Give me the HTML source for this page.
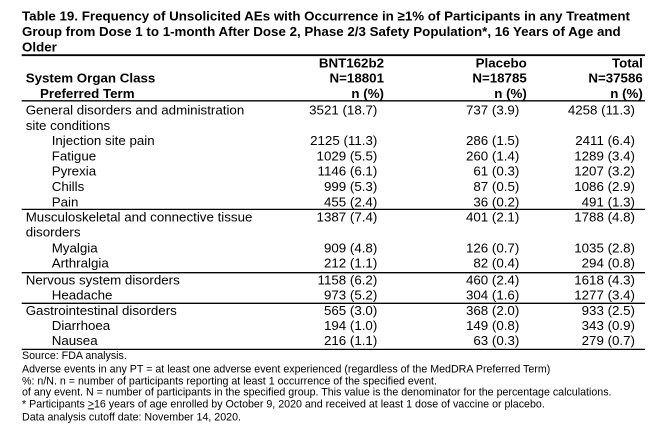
<!DOCTYPE html>
<html>
<head>
<meta charset="utf-8">
<style>
html,body{margin:0;padding:0;background:#fff;}
svg{display:block;}
text{font-family:"Liberation Sans",Arial,sans-serif;fill:#000;}
.t{font-weight:bold;font-size:13.33px;}
.h{font-weight:bold;font-size:13.33px;}
.d{font-size:13.33px;}
.f{font-size:10.67px;}
</style>
</head>
<body>
<svg width="655" height="426" viewBox="0 0 655 426" xmlns="http://www.w3.org/2000/svg">
<rect width="655" height="426" fill="#fff"/>
<!-- Title -->
<text class="t" x="22" y="20.3">Table 19. Frequency of Unsolicited AEs with Occurrence in ≥1% of Participants in any Treatment</text>
<text class="t" x="22" y="36">Group from Dose 1 to 1-month After Dose 2, Phase 2/3 Safety Population*, 16 Years of Age and</text>
<text class="t" x="22" y="51.7">Older</text>
<line x1="21.7" y1="55.2" x2="645" y2="55.2" stroke="#000" stroke-width="1.8"/>
<!-- Header -->
<text class="h" x="384" y="67.7" text-anchor="end">BNT162b2</text>
<text class="h" x="526.8" y="67.7" text-anchor="end">Placebo</text>
<text class="h" x="642.8" y="67.7" text-anchor="end">Total</text>
<text class="h" x="25.7" y="82.7">System Organ Class</text>
<text class="h" x="384" y="82.7" text-anchor="end">N=18801</text>
<text class="h" x="526.8" y="82.7" text-anchor="end">N=18785</text>
<text class="h" x="642.8" y="82.7" text-anchor="end">N=37586</text>
<text class="h" x="40" y="97.8">Preferred Term</text>
<text class="h" x="384" y="97.8" text-anchor="end">n (%)</text>
<text class="h" x="526.8" y="97.8" text-anchor="end">n (%)</text>
<text class="h" x="642.8" y="97.8" text-anchor="end">n (%)</text>
<line x1="21.7" y1="100.8" x2="645" y2="100.8" stroke="#000" stroke-width="1.3"/>
<!-- Rows -->
<g class="d">
<text class="d" x="25.7" y="114.3">General disorders and administration</text>
<text class="d" x="377.3" y="114.3" text-anchor="end">3521 (18.7)</text>
<text class="d" x="519.3" y="114.3" text-anchor="end">737 (3.9)</text>
<text class="d" x="635" y="114.3" text-anchor="end">4258 (11.3)</text>
<text class="d" x="25.7" y="130">site conditions</text>

<text class="d" x="51.7" y="145">Injection site pain</text>
<text class="d" x="377.3" y="145" text-anchor="end">2125 (11.3)</text>
<text class="d" x="519.3" y="145" text-anchor="end">286 (1.5)</text>
<text class="d" x="635" y="145" text-anchor="end">2411 (6.4)</text>

<text class="d" x="51.7" y="160.5">Fatigue</text>
<text class="d" x="377.3" y="160.5" text-anchor="end">1029 (5.5)</text>
<text class="d" x="519.3" y="160.5" text-anchor="end">260 (1.4)</text>
<text class="d" x="635" y="160.5" text-anchor="end">1289 (3.4)</text>

<text class="d" x="51.7" y="175.7">Pyrexia</text>
<text class="d" x="377.3" y="175.7" text-anchor="end">1146 (6.1)</text>
<text class="d" x="519.3" y="175.7" text-anchor="end">61 (0.3)</text>
<text class="d" x="635" y="175.7" text-anchor="end">1207 (3.2)</text>

<text class="d" x="51.7" y="191">Chills</text>
<text class="d" x="377.3" y="191" text-anchor="end">999 (5.3)</text>
<text class="d" x="519.3" y="191" text-anchor="end">87 (0.5)</text>
<text class="d" x="635" y="191" text-anchor="end">1086 (2.9)</text>

<text class="d" x="51.7" y="206.3">Pain</text>
<text class="d" x="377.3" y="206.3" text-anchor="end">455 (2.4)</text>
<text class="d" x="519.3" y="206.3" text-anchor="end">36 (0.2)</text>
<text class="d" x="635" y="206.3" text-anchor="end">491 (1.3)</text>
</g>
<line x1="21.7" y1="209.4" x2="645" y2="209.4" stroke="#000" stroke-width="1.3"/>

<text class="d" x="25.7" y="221.7">Musculoskeletal and connective tissue</text>
<text class="d" x="377.3" y="221.7" text-anchor="end">1387 (7.4)</text>
<text class="d" x="519.3" y="221.7" text-anchor="end">401 (2.1)</text>
<text class="d" x="635" y="221.7" text-anchor="end">1788 (4.8)</text>
<text class="d" x="25.7" y="236.7">disorders</text>

<text class="d" x="51.7" y="252.3">Myalgia</text>
<text class="d" x="377.3" y="252.3" text-anchor="end">909 (4.8)</text>
<text class="d" x="519.3" y="252.3" text-anchor="end">126 (0.7)</text>
<text class="d" x="635" y="252.3" text-anchor="end">1035 (2.8)</text>

<text class="d" x="51.7" y="267.7">Arthralgia</text>
<text class="d" x="377.3" y="267.7" text-anchor="end">212 (1.1)</text>
<text class="d" x="519.3" y="267.7" text-anchor="end">82 (0.4)</text>
<text class="d" x="635" y="267.7" text-anchor="end">294 (0.8)</text>
<line x1="21.7" y1="272.7" x2="645" y2="272.7" stroke="#000" stroke-width="1.3"/>

<text class="d" x="25.7" y="284.3">Nervous system disorders</text>
<text class="d" x="377.3" y="284.3" text-anchor="end">1158 (6.2)</text>
<text class="d" x="519.3" y="284.3" text-anchor="end">460 (2.4)</text>
<text class="d" x="635" y="284.3" text-anchor="end">1618 (4.3)</text>

<text class="d" x="51.7" y="299.3">Headache</text>
<text class="d" x="377.3" y="299.3" text-anchor="end">973 (5.2)</text>
<text class="d" x="519.3" y="299.3" text-anchor="end">304 (1.6)</text>
<text class="d" x="635" y="299.3" text-anchor="end">1277 (3.4)</text>
<line x1="21.7" y1="303.3" x2="645" y2="303.3" stroke="#000" stroke-width="1.3"/>

<text class="d" x="25.7" y="315">Gastrointestinal disorders</text>
<text class="d" x="377.3" y="315" text-anchor="end">565 (3.0)</text>
<text class="d" x="519.3" y="315" text-anchor="end">368 (2.0)</text>
<text class="d" x="635" y="315" text-anchor="end">933 (2.5)</text>

<text class="d" x="51.7" y="330">Diarrhoea</text>
<text class="d" x="377.3" y="330" text-anchor="end">194 (1.0)</text>
<text class="d" x="519.3" y="330" text-anchor="end">149 (0.8)</text>
<text class="d" x="635" y="330" text-anchor="end">343 (0.9)</text>

<text class="d" x="51.7" y="345">Nausea</text>
<text class="d" x="377.3" y="345" text-anchor="end">216 (1.1)</text>
<text class="d" x="519.3" y="345" text-anchor="end">63 (0.3)</text>
<text class="d" x="635" y="345" text-anchor="end">279 (0.7)</text>
<line x1="21.7" y1="349.4" x2="645" y2="349.4" stroke="#000" stroke-width="1.3"/>

<!-- Footnotes -->
<text class="f" x="22" y="359">Source: FDA analysis.</text>
<text class="f" x="22" y="372.7">Adverse events in any PT = at least one adverse event experienced (regardless of the MedDRA Preferred Term)</text>
<text class="f" x="22" y="384.3">%: n/N. n = number of participants reporting at least 1 occurrence of the specified event.</text>
<text class="f" x="22" y="395.3">of any event. N = number of participants in the specified group. This value is the denominator for the percentage calculations.</text>
<text class="f" x="22" y="407.3">* Participants <tspan text-decoration="underline">&gt;</tspan>16 years of age enrolled by October 9, 2020 and received at least 1 dose of vaccine or placebo.</text>
<text class="f" x="22" y="420.3">Data analysis cutoff date: November 14, 2020.</text>
</svg>
</body>
</html>
